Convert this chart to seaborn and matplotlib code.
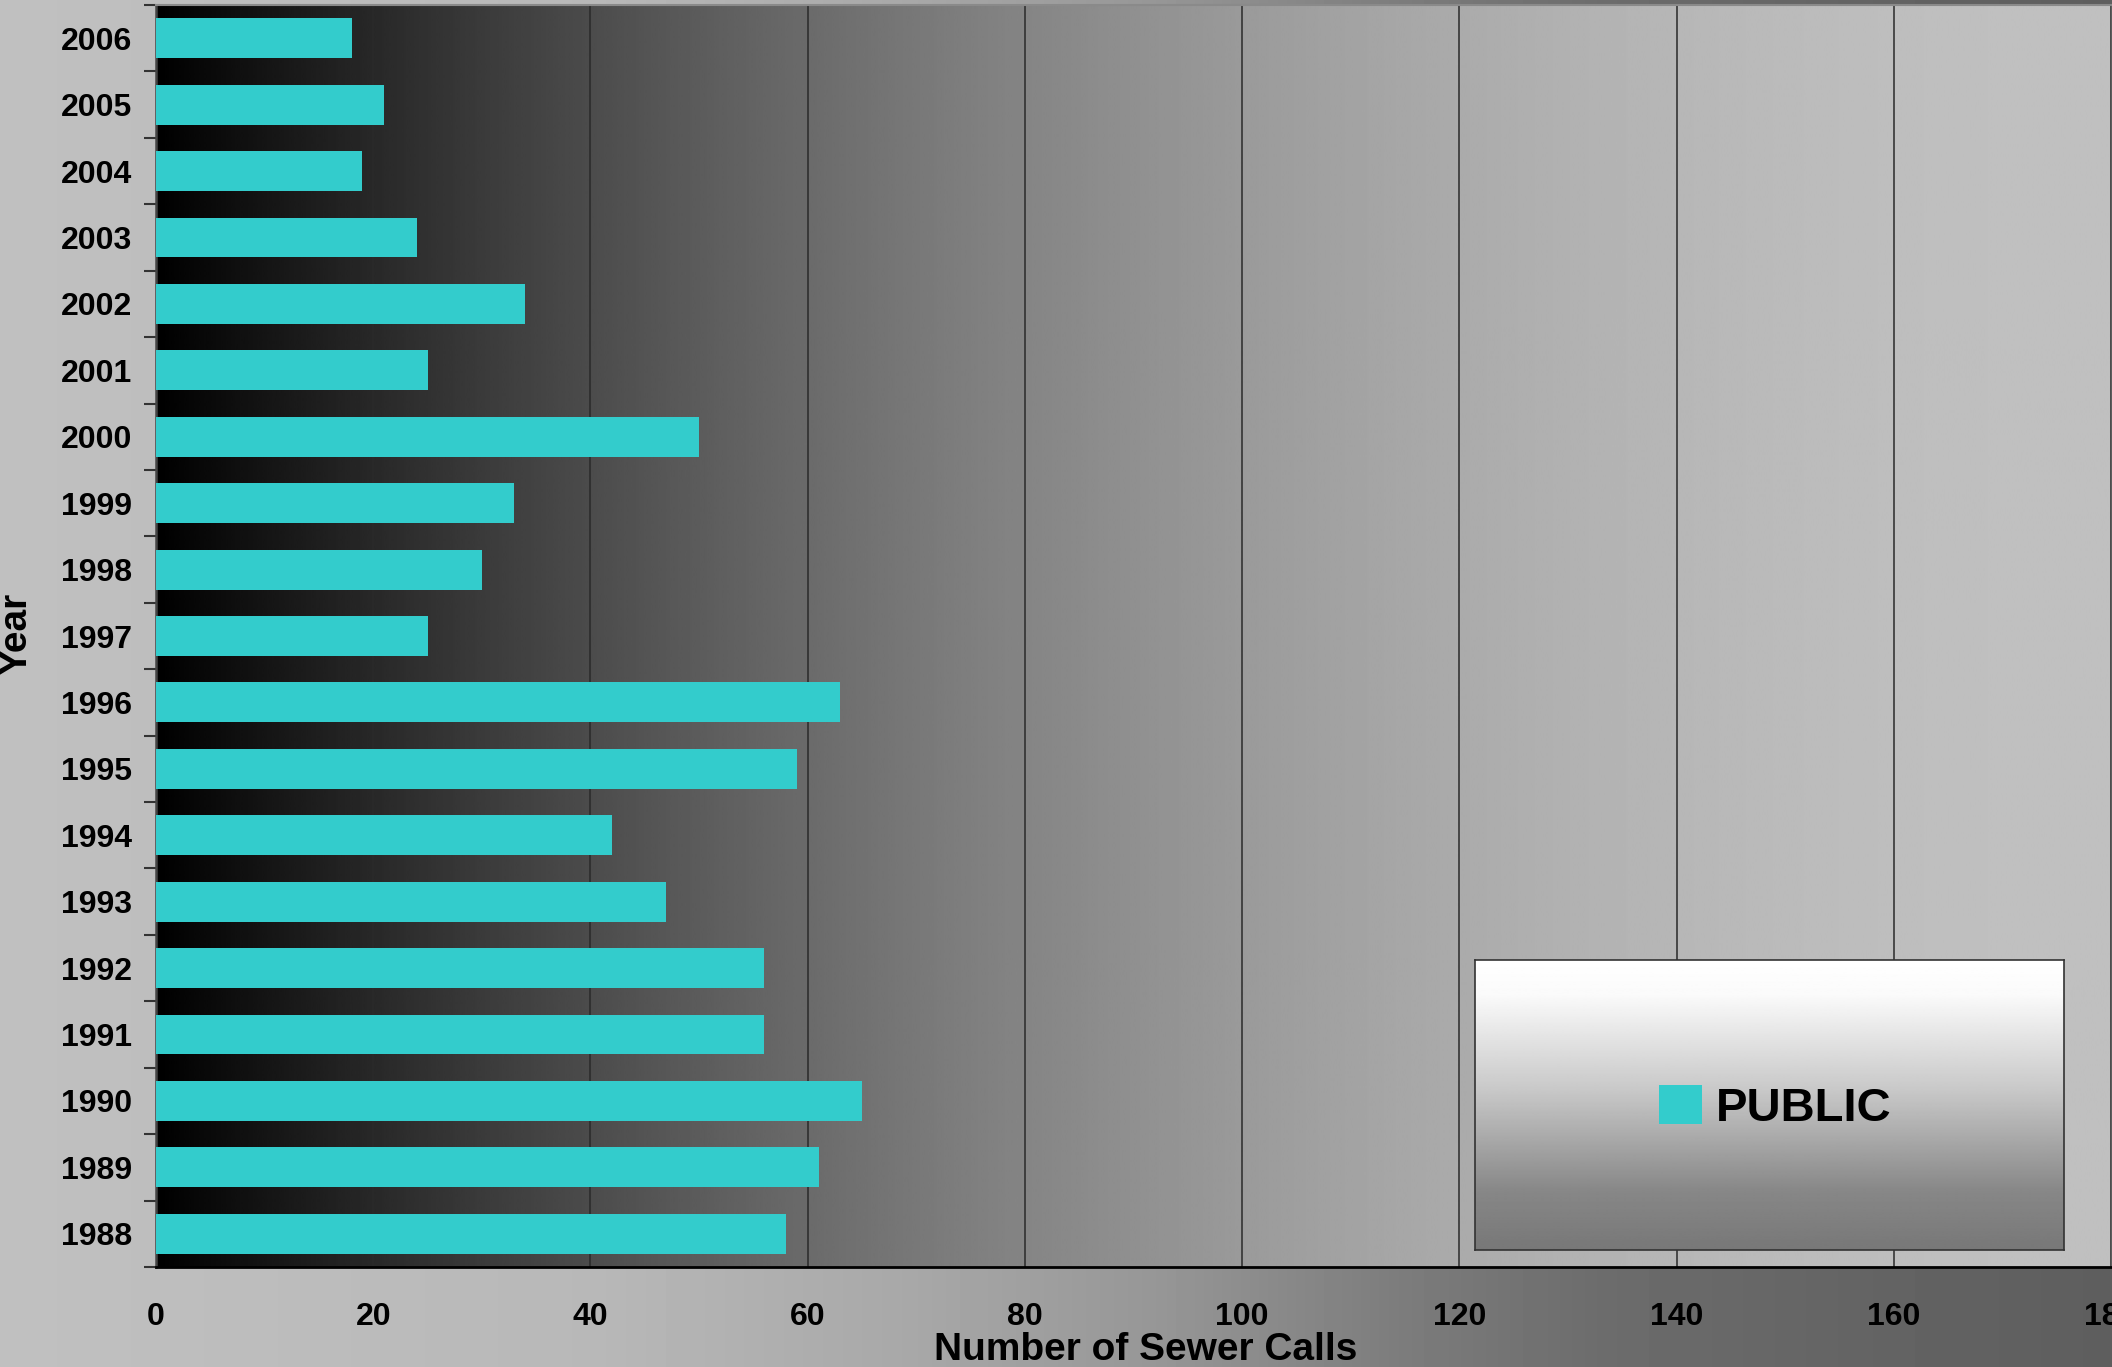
import numpy as np
import pandas as pd
import matplotlib
matplotlib.use("Agg")
import matplotlib.pyplot as plt
import seaborn as sns

years = ["2006", "2005", "2004", "2003", "2002", "2001", "2000", "1999", "1998", "1997",
         "1996", "1995", "1994", "1993", "1992", "1991", "1990", "1989", "1988"]
calls = [18, 21, 19, 24, 34, 25, 50, 33, 30, 25,
         63, 59, 42, 47, 56, 56, 65, 61, 58]
series_name = "PUBLIC"
x_ticks = list(range(0, 181, 20))

df = pd.DataFrame({"year": years, "calls": calls})

sns.set_theme(style="white")
plt.rcParams["font.family"] = ["Liberation Sans", "DejaVu Sans"]
plt.rcParams["font.weight"] = "bold"

W, H = 2112, 1367
fig = plt.figure(figsize=(W / 100, H / 100), dpi=100)

# figure background gradient (horizontal)
bg_ax = fig.add_axes([0, 0, 1, 1], zorder=-10)
xs = np.linspace(0, 1, 512)
bg = np.interp(xs, [0, 0.28, 0.43, 0.55, 0.66, 0.76, 0.88, 1.0],
               [192, 184, 168, 150, 125, 108, 100, 94]) / 255.0
bg_ax.imshow(np.tile(bg, (2, 1)), cmap="gray", vmin=0, vmax=1, aspect="auto",
             extent=[0, 1, 0, 1], interpolation="bilinear")
bg_ax.set_axis_off()

left = 156 / W
right = 2111 / W
bottom = (H - 1267) / H
top = (H - 5) / H
ax = fig.add_axes([left, bottom, right - left, top - bottom])
ax.patch.set_alpha(0)

sns.barplot(data=df, x="calls", y="year", order=years, orient="h",
            color="#33CCCC", saturation=1, width=0.6, label=series_name,
            edgecolor="none", linewidth=0, ax=ax, zorder=3)
handles, labels = ax.get_legend_handles_labels()
if ax.get_legend() is not None:
    ax.get_legend().remove()

# plot area gradient
t = np.linspace(0, 1, 800)
g = 0.753 * (1 - (1 - t) ** 2)
ax.imshow(np.tile(g, (2, 1)), cmap="gray", vmin=0, vmax=1, aspect="auto",
          extent=[0, 180, 18.5, -0.5], interpolation="bilinear", zorder=0)
ax.set_xlim(0, 180)
ax.set_ylim(18.5, -0.5)

ax.set_xticks(x_ticks)
ax.set_xticklabels([str(v) for v in x_ticks])
ax.xaxis.grid(True, color="#2a2a2a", linewidth=1.1)
ax.yaxis.grid(False)
for gl in ax.get_xgridlines():
    gl.set_zorder(1)

ax.tick_params(axis="x", which="major", direction="inout", length=20, width=1.8,
               color="black", labelsize=23, pad=15, labelcolor="black")
ax.tick_params(axis="y", which="major", length=0, labelsize=23, pad=17,
               labelcolor="black")
ax.set_yticks(np.arange(-0.5, 19, 1.0), minor=True)
ax.tick_params(axis="y", which="minor", direction="out", length=9, width=1.5,
               color="#333333", left=True)
for lab in ax.get_xticklabels() + ax.get_yticklabels():
    lab.set_fontweight("bold")

ax.spines["right"].set_visible(False)
ax.spines["bottom"].set_color("black")
ax.spines["bottom"].set_linewidth(2.0)
ax.spines["bottom"].set_zorder(5)
ax.spines["left"].set_color("#444444")
ax.spines["left"].set_linewidth(1.8)
ax.spines["top"].set_color("#8a8a8a")
ax.spines["top"].set_linewidth(1.5)

ax.set_xlabel("Number of Sewer Calls", fontsize=28, fontweight="bold",
              color="black", va="baseline")
ax.xaxis.set_label_coords(0.5064, -0.0737)
ax.set_ylabel("Year", fontsize=28, fontweight="bold", color="black", va="center")
ax.yaxis.set_label_coords(-0.0716, 0.502)

# legend box with vertical gradient
lx0, lx1 = 1475 / W, 2064 / W
ly0, ly1 = (H - 1250) / H, (H - 960) / H
lax = fig.add_axes([lx0, ly0, lx1 - lx0, ly1 - ly0], zorder=5)
ys = np.linspace(0, 1, 256)
lg = np.interp(ys, [0, 0.12, 0.45, 0.8, 1.0], [255, 250, 200, 135, 120]) / 255.0
lax.imshow(lg.reshape(-1, 1), cmap="gray", vmin=0, vmax=1, aspect="auto",
           extent=[0, 1, 1, 0], interpolation="bilinear")
lax.set_xlim(0, 1)
lax.set_ylim(1, 0)
lax.set_xticks([])
lax.set_yticks([])
for s in lax.spines.values():
    s.set_color("#333333")
    s.set_linewidth(1.2)

leg = lax.legend(handles, labels, loc="center", bbox_to_anchor=(0.51, 0.49),
                 frameon=False, prop={"size": 34, "weight": "bold"},
                 labelcolor="black",
                 handlelength=0.9, handleheight=0.9, handletextpad=0.3)

fig.savefig("out.png", dpi=100)
